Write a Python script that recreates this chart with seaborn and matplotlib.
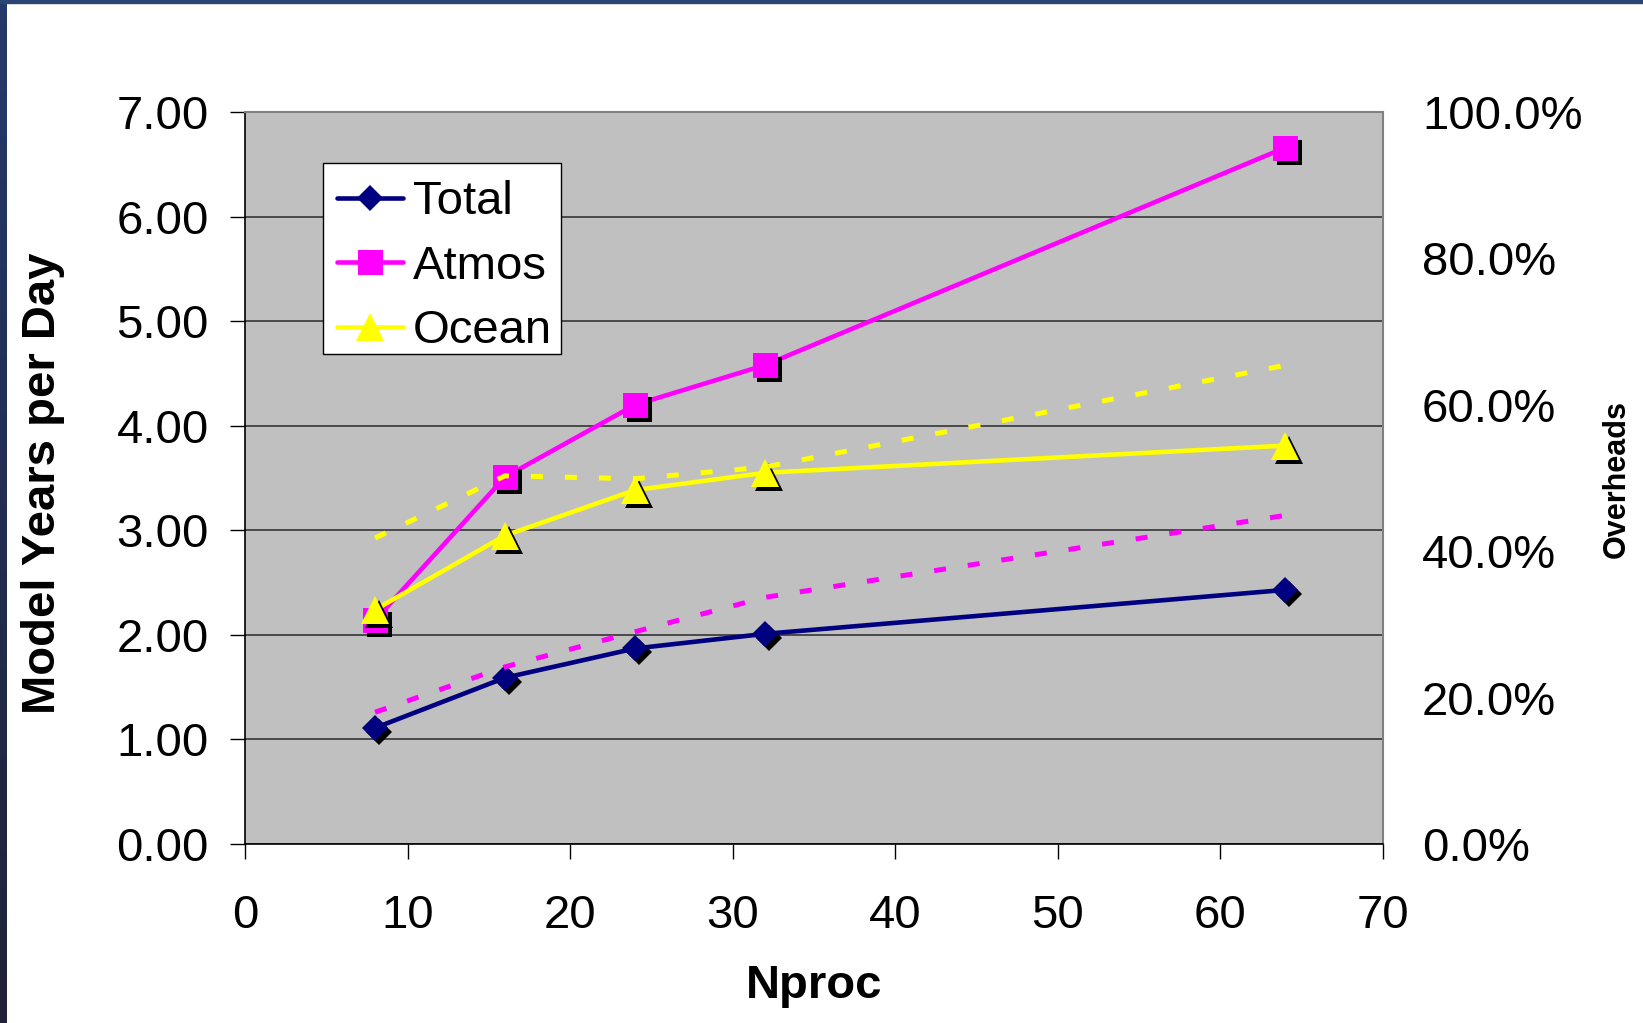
import numpy as np
import pandas as pd
import seaborn as sns
import matplotlib
matplotlib.use("Agg")
import matplotlib.pyplot as plt
from matplotlib import transforms
from matplotlib.ticker import FuncFormatter, MultipleLocator
from matplotlib.lines import Line2D

# Throughput (model years per day) vs. processor count
nproc = [8, 16, 24, 32, 64]
total = [1.11, 1.59, 1.87, 2.01, 2.43]
atmos = [2.14, 3.51, 4.20, 4.58, 6.66]
ocean = [2.24, 2.95, 3.385, 3.55, 3.81]

# Overheads (percent) on the secondary axis
atmos_overhead = [18.0, 24.2, 29.0, 33.7, 44.9]
ocean_overhead = [41.8, 50.3, 49.9, 51.5, 65.4]

series_names = ["Total", "Atmos", "Ocean"]
series_colors = ["#000080", "#ff00ff", "#ffff00"]

sns.set_theme(style="white")
plt.rcParams["font.family"] = ["Liberation Sans", "DejaVu Sans"]
plt.rcParams["text.color"] = "black"
plt.rcParams["axes.labelcolor"] = "black"

fig = plt.figure(figsize=(16.43, 10.23), dpi=100)
fig.patch.set_facecolor("white")

# slide frame: thin blue bar along the top, gradient bar on the left
fig.add_artist(plt.Rectangle((0, 1 - 3 / 1023), 1, 3 / 1023,
                             transform=fig.transFigure, color="#2a4474", zorder=10))
strip = fig.add_axes([0, 0, 7 / 1643, 1])
grad = np.linspace(0, 1, 256).reshape(-1, 1)
strip.imshow(grad, aspect="auto",
             cmap=matplotlib.colors.LinearSegmentedColormap.from_list(
                 "frame", ["#25396a", "#1f2238"]),
             extent=[0, 1, 0, 1], origin="upper")
strip.axis("off")

ax = fig.add_axes([245 / 1643, 1 - 844 / 1023, 1138 / 1643, 732 / 1023])
ax.set_facecolor("#c0c0c0")

df = pd.DataFrame({"Nproc": nproc, "Total": total, "Atmos": atmos, "Ocean": ocean,
                   "AtmosOver": atmos_overhead, "OceanOver": ocean_overhead})

markers = {"Total": ("D", 13.5), "Atmos": ("s", 18), "Ocean": ("^", 19.5)}
shadow = transforms.offset_copy(ax.transData, fig=fig, x=3.5, y=-4, units="dots")

for i, (name, col) in enumerate(zip(series_names, series_colors)):
    m, ms = markers[name]
    sns.lineplot(data=df, x="Nproc", y=name, ax=ax, color=col, linewidth=3.3,
                 marker=None, zorder=3 + i * 3, legend=False)
    ax.plot(df["Nproc"], df[name], linestyle="none", marker=m, markersize=ms,
            color="black", markeredgewidth=0, transform=shadow, zorder=4 + i * 3)
    ax.plot(df["Nproc"], df[name], linestyle="none", marker=m, markersize=ms,
            color=col, markeredgewidth=0, zorder=5 + i * 3)

ax.set_xlim(0, 70)
ax.set_ylim(0, 7)
ax.xaxis.set_major_locator(MultipleLocator(10))
ax.yaxis.set_major_locator(MultipleLocator(1))
ax.yaxis.set_major_formatter(FuncFormatter(lambda v, p: f"{v:.2f}"))
ax.yaxis.grid(True, color="#404040", linewidth=1.3)
ax.xaxis.grid(False)
ax.set_axisbelow(True)
ax.tick_params(axis="both", direction="out", length=11, width=1, color="black",
               labelsize=34, labelcolor="black")
ax.tick_params(axis="y", pad=15, left=True)
ax.tick_params(axis="x", pad=25, bottom=True)
for s in ["left", "bottom"]:
    ax.spines[s].set_color("black")
    ax.spines[s].set_linewidth(1.2)
for s in ["top", "right"]:
    ax.spines[s].set_color("#808080")
    ax.spines[s].set_linewidth(1.5)

ax.set_xlabel("Nproc", fontsize=34, fontweight="bold", va="center")
ax.xaxis.set_label_coords(0.5, -0.194)
ax.set_ylabel("Model Years per Day", fontsize=34, fontweight="bold",
              va="center", ha="center")
ax.yaxis.set_label_coords(-0.1775, 0.493)

# secondary axis with the overhead percentages
ax2 = ax.twinx()
sns.lineplot(data=df, x="Nproc", y="AtmosOver", ax=ax2, color="#ff00ff",
             linewidth=3.6, dashes=False, legend=False)
sns.lineplot(data=df, x="Nproc", y="OceanOver", ax=ax2, color="#ffff00",
             linewidth=3.6, dashes=False, legend=False)
for ln in ax2.get_lines():
    ln.set_dashes([2.4, 4.4])
    ln.set_dash_capstyle("butt")
ax2.set_ylim(0, 100)
ax2.yaxis.set_major_locator(MultipleLocator(20))
ax2.yaxis.set_major_formatter(FuncFormatter(lambda v, p: f"{v:.1f}%"))
ax2.tick_params(axis="y", length=0, pad=28, labelsize=34, labelcolor="black", right=True)
for s in ax2.spines.values():
    s.set_visible(False)
ax2.grid(False)
ax2.set_ylabel("Overheads", fontsize=22, fontweight="bold", rotation=90,
               va="center", ha="center")
ax2.yaxis.set_label_coords(1.2056, 0.4986)

# legend box drawn as its own white panel, entries placed inside it
ax2.add_patch(plt.Rectangle((0.0685, 0.6694), 0.2777 - 0.0685, 0.9303 - 0.6694,
                            transform=ax2.transAxes, facecolor="white",
                            edgecolor="black", linewidth=1.0, zorder=19))
handles = [Line2D([], [], color=c, linewidth=3.3, marker=markers[n][0],
                  markersize=markers[n][1], markeredgewidth=0)
           for n, c in zip(series_names, series_colors)]
leg = ax2.legend(handles, series_names, loc="upper left",
                 bbox_to_anchor=(0.0808, 0.9069), borderaxespad=0,
                 frameon=False, fontsize=34, handlelength=1.4,
                 handletextpad=0.21, labelspacing=0.435, borderpad=0)
leg.set_zorder(20)

fig.savefig("out.png", dpi=100)
